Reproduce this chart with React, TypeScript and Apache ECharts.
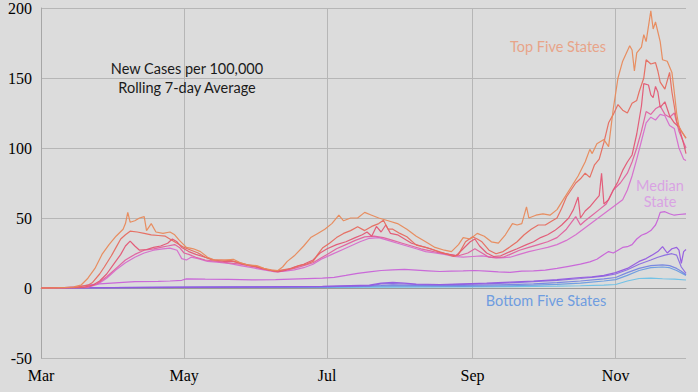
import React, { useEffect, useRef } from "react";
import * as echarts from "echarts";

// Day index: 0 = Mar 1
const monthTickDays = [0, 61, 122, 184, 245];
const monthTickLabels = ["Mar", "May", "Jul", "Sep", "Nov"];
const yTicks = { min: -50, max: 200, interval: 50 };

const top1: [number, number][] = [
  [0, 0], [5, 0], [10, 0.3], [14, 0.8], [17, 2], [20, 7], [23, 14], [26, 24], [29, 31], [32, 37], [35, 42], [36, 46], [37, 54], [38, 47],
  [40, 48], [42, 50], [44, 51], [45, 41], [47, 46], [49, 40], [52, 39], [55, 40], [57, 38], [59, 34], [62, 29], [65, 28], [68, 26],
  [71, 22], [74, 20], [78, 20], [82, 20.5], [85, 18], [88, 16.5], [92, 16], [95, 14], [98, 13], [101, 12.5], [103, 15], [105, 19],
  [108, 23], [112, 30], [115, 36], [118, 39], [121, 42], [124, 46], [127, 52], [129, 48], [132, 50], [135, 50], [138, 54], [141, 52],
  [144, 50], [148, 48], [152, 46], [156, 42], [160, 37], [164, 33], [168, 29], [172, 27], [175, 26], [178, 31], [180, 36], [183, 35],
  [186, 39], [189, 37], [192, 33], [195, 32], [198, 38], [201, 46], [203, 45], [205, 46], [207, 58], [208, 50], [211, 52], [214, 53],
  [217, 52], [220, 56], [223, 64], [226, 72], [229, 80], [232, 90], [234, 99], [235, 96], [237, 103], [240, 106], [242, 101],
  [244, 128], [246, 150], [248, 162], [251, 173], [252, 170], [253, 155], [254, 168], [256, 172], [257, 181], [258, 176], [260, 198],
  [261, 185], [262, 190], [264, 176], [265, 163], [267, 162], [269, 154], [270, 140], [271, 125], [272, 115], [275, 107]
];
const top2: [number, number][] = [
  [0, 0], [15, 0.5], [20, 2], [22, 4], [25, 10], [27, 15], [30, 23], [32, 29], [34, 35], [36, 38], [38, 40.6], [41, 40], [44, 39],
  [47, 38], [50, 37.5], [53, 37], [56, 34], [58, 32], [61, 29], [64, 27], [67, 25], [70, 22], [73, 20], [77, 20], [81, 19.5], [85, 18],
  [89, 16], [93, 15], [97, 13], [100, 12], [103, 13], [107, 14], [110, 16], [113, 17], [116, 19], [118, 24], [120, 28.5], [123, 32],
  [126, 36], [129, 39], [132, 41], [135, 43.7], [138, 41], [141, 44], [144, 46], [146, 48.4], [148, 42], [150, 42], [153, 39],
  [156, 36.6], [160, 30.6], [164, 29], [168, 27], [172, 24.7], [176, 22.5], [178, 24], [181, 33], [184, 36.6], [186, 35], [188, 33],
  [191, 27], [194, 24.5], [197, 26], [200, 29.4], [203, 33], [206, 38], [209, 42], [212, 45], [215, 45], [218, 48], [220, 50],
  [222, 57], [224, 65], [226, 70], [228, 75], [230, 78], [232, 82], [234, 79], [236, 88], [238, 92], [240, 104], [242, 118],
  [244, 124], [246, 131], [248, 127], [250, 125], [252, 132], [254, 134], [255, 140], [257, 150], [258, 163], [260, 160], [262, 161],
  [263, 155], [264, 147], [266, 142], [268, 154], [269, 140], [270, 130], [271, 119], [273, 112], [275, 107]
];
const top3: [number, number][] = [
  [0, 0], [18, 0.5], [22, 2], [25, 5], [28, 10], [31, 17], [34, 24], [36, 30], [38, 33.5], [40, 30], [42, 27], [45, 27.5], [48, 29],
  [51, 30], [54, 32], [56, 35], [58, 33], [60, 29], [63, 26], [66, 24], [70, 22], [74, 20], [78, 19], [82, 19], [86, 17], [90, 16],
  [94, 14], [98, 12.5], [101, 11.5], [104, 12.5], [108, 15], [112, 17], [116, 20], [119, 25], [122, 28], [126, 31], [130, 33],
  [134, 36], [137, 38], [139, 40], [141, 37], [143, 44], [145, 40], [147, 45], [149, 39], [152, 38], [155, 35], [158, 32], [162, 30],
  [166, 28], [170, 25.5], [174, 24], [177, 23], [180, 28], [183, 33], [185, 35], [187, 30], [190, 25], [193, 22.5], [196, 23],
  [200, 26], [203, 28], [207, 31], [210, 33], [213, 36], [216, 38], [219, 41], [222, 45], [225, 50], [227, 56], [229, 65], [230, 50],
  [232, 55], [234, 58], [236, 62], [238, 66], [239, 82], [240, 60], [242, 63], [244, 70], [246, 76], [248, 84], [250, 90], [252, 95],
  [254, 110], [256, 130], [257, 146], [259, 145], [260, 138], [261, 136], [262, 144], [263, 140], [264, 129], [266, 133], [268, 123],
  [270, 118], [272, 115], [274, 103], [275, 96]
];
const top4: [number, number][] = [
  [0, 0], [20, 0.5], [24, 3], [28, 8], [32, 14], [36, 20], [40, 24], [44, 27], [48, 28], [51, 29], [54, 30], [57, 31], [59, 29],
  [61, 25], [63, 24], [66, 22], [70, 20], [75, 19], [80, 18], [85, 17], [90, 15.5], [95, 13.5], [100, 12], [104, 12.5], [108, 14],
  [112, 16], [116, 18], [119, 21], [122, 24], [126, 28], [130, 31], [134, 34], [138, 36.5], [142, 37], [146, 36], [150, 34],
  [154, 32], [158, 30], [162, 28], [166, 26.5], [170, 25], [174, 24], [178, 23], [182, 25], [185, 28], [188, 25], [191, 22],
  [194, 21.5], [197, 22], [200, 24], [204, 27], [208, 29], [212, 31], [216, 33], [220, 36], [224, 42], [228, 51], [230, 45],
  [232, 48], [235, 52], [238, 56], [241, 60], [244, 70], [247, 75], [250, 82], [252, 90], [254, 100], [256, 112], [258, 126],
  [260, 124], [262, 128], [264, 130], [266, 124], [268, 122], [270, 125], [272, 112], [274, 104], [275, 100]
];
const top5: [number, number][] = [
  [0, 0], [20, 0.5], [24, 2.5], [28, 7], [32, 13], [36, 18], [40, 22], [44, 25], [48, 27], [52, 28], [55, 28.5], [58, 27], [60, 21],
  [62, 20], [64, 22], [67, 21], [71, 19], [75, 18.5], [80, 17.5], [85, 16], [90, 14.5], [95, 13], [100, 11.5], [104, 12], [108, 13],
  [112, 14.5], [116, 17], [120, 21], [124, 24], [128, 27], [132, 30], [136, 33], [140, 35.5], [144, 36], [148, 34], [152, 32],
  [156, 30], [160, 28], [164, 26], [168, 25], [172, 24], [176, 22.5], [180, 22], [184, 22.5], [188, 23], [192, 22], [196, 21.5],
  [200, 22], [204, 24], [208, 26], [212, 27.5], [216, 29], [220, 31], [224, 34], [228, 38], [232, 43], [236, 48], [240, 53],
  [244, 58], [248, 63], [250, 70], [252, 80], [254, 92], [256, 105], [258, 118], [260, 122], [262, 120], [264, 124], [266, 123],
  [268, 116], [270, 114], [272, 100], [274, 92], [275, 91]
];
const median: [number, number][] = [
  [0, 0], [10, 0.3], [16, 1], [20, 2], [25, 3], [30, 3.5], [35, 4], [40, 4.5], [50, 4.7], [55, 5], [60, 5.5], [62, 6.5], [70, 6.3],
  [80, 6.2], [90, 5.8], [100, 6], [110, 6.5], [120, 7], [125, 7.6], [130, 9], [135, 10.5], [140, 11.5], [145, 12.5], [150, 13],
  [155, 13.3], [160, 12.8], [165, 12.3], [170, 11.8], [175, 12], [180, 12.2], [185, 12.5], [190, 12], [195, 11.5], [200, 11.2],
  [205, 12], [210, 12.2], [215, 12.8], [220, 14], [225, 15.5], [230, 17], [234, 18.7], [237, 20.5], [240, 24], [242, 26], [244, 25],
  [246, 27], [248, 29], [250, 29.5], [252, 31], [254, 35], [256, 37.7], [258, 39], [260, 41], [262, 45], [263, 49], [264, 54],
  [266, 54.5], [268, 53], [270, 52], [272, 52.5], [275, 53]
];
const bottom1: [number, number][] = [
  [0, 0], [30, 0.3], [60, 0.6], [90, 0.8], [120, 1.2], [140, 2], [145, 3.5], [150, 4], [155, 3.5], [160, 2.8], [170, 2.5], [180, 3],
  [190, 3.5], [200, 4.2], [210, 5], [220, 6], [230, 7.5], [235, 8], [240, 9], [245, 11], [250, 14], [255, 19], [258, 21], [261, 24],
  [263, 26], [265, 29.5], [267, 25], [269, 28], [271, 29], [272, 27], [273, 17.6], [274, 26], [275, 27.5]
];
const bottom2: [number, number][] = [
  [0, 0], [30, 0.3], [60, 0.5], [90, 0.7], [120, 1], [140, 1.5], [145, 3], [150, 3.2], [160, 2.5], [170, 2.2], [180, 2.6], [190, 3],
  [200, 3.6], [210, 4.5], [220, 5.5], [230, 6.8], [240, 8.5], [245, 10], [250, 13], [255, 17], [260, 20], [263, 22], [266, 23.5],
  [269, 24.5], [271, 23.5], [273, 15], [275, 10.5]
];
const bottom3: [number, number][] = [
  [0, 0], [30, 0.2], [60, 0.4], [90, 0.6], [120, 0.9], [145, 1.8], [150, 2.3], [160, 1.8], [180, 1.8], [200, 2.4], [210, 3], [220, 3.8],
  [230, 5], [240, 6.5], [245, 7.5], [250, 11], [255, 14], [260, 16], [265, 16.5], [268, 16], [271, 14], [273, 12], [275, 9.5]
];
const bottom4: [number, number][] = [
  [0, 0], [30, 0.2], [60, 0.3], [90, 0.4], [120, 0.6], [150, 1.5], [160, 1.3], [180, 1.2], [200, 1.6], [210, 2], [220, 2.6], [230, 3.5],
  [240, 5], [245, 6], [250, 9], [255, 12.5], [260, 14.5], [265, 15], [268, 14.5], [271, 12.5], [275, 9]
];
const bottom5: [number, number][] = [
  [0, 0], [40, 0.1], [60, 0.2], [90, 0.3], [120, 0.4], [150, 0.6], [180, 0.8], [200, 1], [220, 1.3], [230, 1.6], [240, 2], [245, 2.5],
  [250, 5], [255, 6.8], [260, 7], [265, 6.6], [270, 6.4], [275, 5.7]
];

const seriesList = [
  { name: "Bottom 5", data: bottom5, color: "#6cc0e6" },
  { name: "Bottom 4", data: bottom4, color: "#6a9ce0" },
  { name: "Bottom 3", data: bottom3, color: "#7484e0" },
  { name: "Bottom 2", data: bottom2, color: "#8a6ce0" },
  { name: "Bottom 1", data: bottom1, color: "#9458e0" },
  { name: "Median", data: median, color: "#c862d8" },
  { name: "Top 5", data: top5, color: "#d66ccc" },
  { name: "Top 4", data: top4, color: "#e0609e" },
  { name: "Top 3", data: top3, color: "#e35674" },
  { name: "Top 2", data: top2, color: "#e66a5e" },
  { name: "Top 1", data: top1, color: "#e8895a" }
];

const annoFont = "Lato, 'Open Sans', sans-serif";
const annoSize = 14.5;

export default function App() {
  const ref = useRef<HTMLDivElement>(null);
  useEffect(() => {
    if (!ref.current) return;
    const chart = echarts.init(ref.current, undefined, { renderer: "svg" });
    const series: any[] = seriesList.map((s, i) => ({
      name: s.name,
      type: "line",
      data: s.data,
      showSymbol: false,
      symbol: "none",
      z: 3 + i,
      lineStyle: { color: s.color, width: 1.2, opacity: 0.95 },
      itemStyle: { color: s.color },
      silent: true
    }));
    series[0].markLine = {
      silent: true,
      symbol: ["none", "none"],
      label: { show: false },
      lineStyle: { color: "#9a9a9a", width: 1, type: "solid" },
      data: [{ yAxis: 0 }]
    };
    const txt = (text: string, x: number, y: number, fill: string) => ({
      type: "text", x, y, z: 100,
      style: { text, fill, font: `${annoSize}px ${annoFont}`, textAlign: "center", textVerticalAlign: "middle" }
    });
    chart.setOption({
      animation: false,
      backgroundColor: "#dcdcdc",
      grid: { left: 41, right: 12, top: 7, bottom: 34, containLabel: false },
      xAxis: {
        type: "value",
        min: 0,
        max: 275,
        axisLine: { show: true, lineStyle: { color: "#a6a6a6", width: 1 } },
        axisTick: { show: false, customValues: monthTickDays },
        axisLabel: {
          customValues: monthTickDays,
          formatter: (v: number) => monthTickLabels[monthTickDays.indexOf(v)] ?? "",
          color: "#000",
          fontFamily: "'Liberation Serif', 'Times New Roman', serif",
          fontSize: 16,
          margin: 9
        },
        splitLine: { show: true, lineStyle: { color: "#b6b6b6", width: 1 } }
      },
      yAxis: {
        type: "value",
        min: yTicks.min,
        max: yTicks.max,
        interval: yTicks.interval,
        axisLine: { show: true, lineStyle: { color: "#a6a6a6", width: 1 } },
        axisTick: { show: false },
        axisLabel: {
          color: "#000",
          fontFamily: "'Liberation Serif', 'Times New Roman', serif",
          fontSize: 16,
          margin: 9
        },
        splitLine: { show: true, lineStyle: { color: "#b6b6b6", width: 1 } }
      },
      series,
      graphic: [
        txt("New Cases per 100,000", 187, 68, "#1a1a1a"),
        txt("Rolling 7-day Average", 187, 87, "#1a1a1a"),
        txt("Top Five States", 558, 46, "#e8a489"),
        txt("Median", 660, 185, "#d9a3e3"),
        txt("State", 660, 201, "#d9a3e3"),
        txt("Bottom Five States", 546, 300, "#6f9de0")
      ]
    });
    return () => chart.dispose();
  }, []);
  return (
    <div
      ref={ref}
      style={{ position: "fixed", left: 0, top: 0, width: 698, height: 392 }}
    />
  );
}
